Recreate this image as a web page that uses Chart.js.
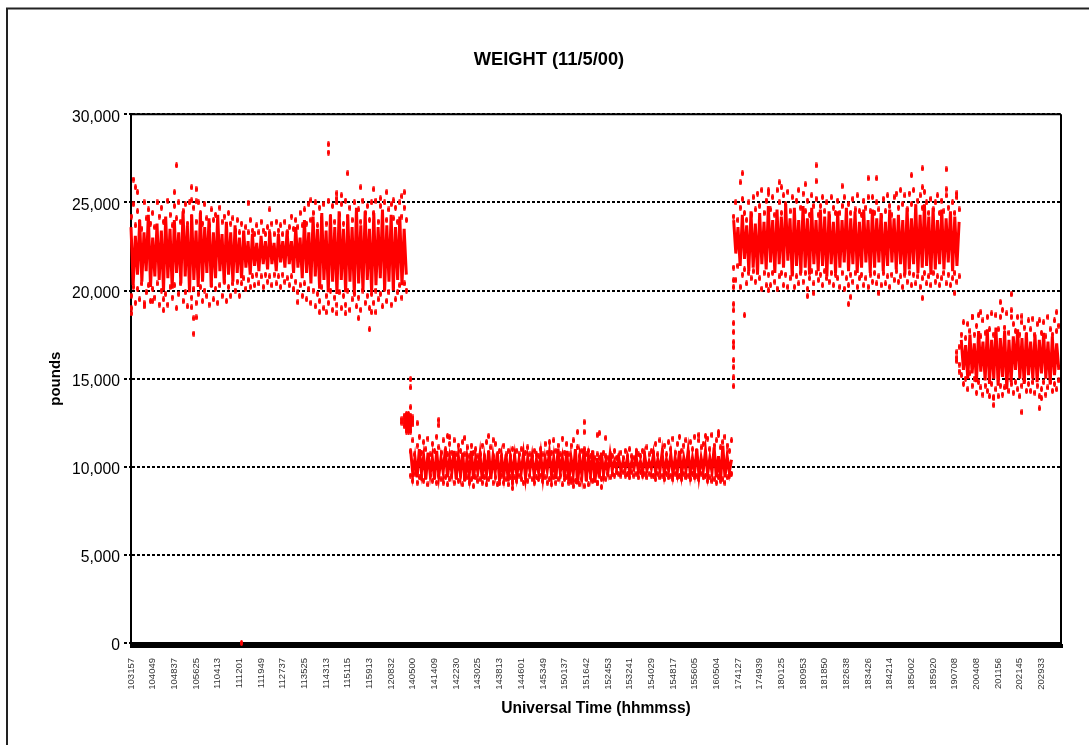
<!DOCTYPE html>
<html>
<head>
<meta charset="utf-8">
<title>WEIGHT (11/5/00)</title>
<script src="https://cdn.jsdelivr.net/npm/chart.js@4"></script>
<style>
  html, body { margin: 0; background: #fff; overflow: hidden; }
  #wrap { position: relative; width: 1089px; height: 745px; }
</style>
</head>
<body>
<div id="wrap"><canvas id="weightChart" width="1089" height="745"></canvas></div>
<script>
// x axis labels, one every 10 columns
const tickLabels = ['103157','104049','104837','105625','110413','111201','111949','112737','113525','114313','115115','115913','120832','140500','141409','142230','143025','143813','144601','145349','150137','151642','152453','153241','154029','154817','155605','160504','174127','174939','180125','180953','181850','182638','183426','184214','185002','185920','190708','200408','201156','202145','202933'];
const yTicks = [0, 5000, 10000, 15000, 20000, 25000, 30000];

// leg 1: columns 0-127
const coreA = [23600,20300,23100,20900,24000,20500,23300,21100,24300,20200,23000,20800,23800,20600,23400,20000,
24200,20700,23500,20100,24000,21000,23300,20400,24500,20800,23700,19900,24300,20600,23400,20200,
24400,20500,23600,21000,24100,20200,23300,20700,24300,21100,23200,20400,23900,20900,23300,20500,
23700,21000,23000,20700,23400,21300,22800,20900,23200,21400,22700,21100,23100,21500,22800,21200,
23300,21500,22700,21100,23200,21600,22800,21300,23400,21500,22800,21000,23600,21300,23000,20700,
24000,21000,23300,20400,24200,20800,23500,20100,24400,20600,23400,19900,24300,20500,23600,19800,
24500,20600,23500,19900,24300,20500,23600,19800,24700,20400,23700,20000,24500,20600,23500,19900,
24400,20300,23600,20700,24600,20000,23700,20500,24300,20000,23600,20600,24200,20300,23500,20900];
const highA = [24200,24900,23700,24500,23900,23500,25000,24100,24600,23800,24400,23600,25000,24200,24700,23900,
24000,25100,24300,23700,24800,24100,25000,23900,24500,24900,23800,25000,24200,24700,23900,25000,
24400,23800,24900,24100,23700,24600,24000,24300,23600,24700,23900,24200,23500,24400,23800,24100,
23400,24000,23300,23800,23200,23600,23300,24000,23400,23200,23700,23300,23900,23400,23200,23600,
23300,23800,23200,23900,23400,23700,23200,23900,23300,23600,24200,23500,24000,23600,24400,23700,
24600,23800,24900,24000,24400,25000,23700,24700,24100,24900,23800,25100,24200,24800,23900,25000,
24300,24900,23800,25100,24200,24700,24000,25000,24300,24600,23900,25100,24400,24800,24000,25000,
24400,25100,23900,24800,24200,25000,24000,24600,24900,24100,24700,23900,25000,24200,24700,24000];
const lowA = [19700,20200,19300,20100,19500,20400,19100,19900,20300,19400,20100,19600,20400,19200,20000,19500,
19800,19200,20200,19600,20300,19000,19800,20400,19400,19900,19100,20300,19600,20100,19300,19800,
20200,19400,20000,19700,19200,20300,19500,20100,19300,20300,19700,20500,19400,20200,19700,20400,
20000,20500,19700,20400,20700,20100,20600,20200,20800,20300,20900,20400,20800,20200,20900,20500,
20800,20300,20900,20400,20800,20200,20900,20500,20700,20300,20800,20100,20500,19900,20300,19700,
20400,19500,20100,19300,20000,19100,19800,19400,20200,19000,19700,19300,20000,18900,19600,19200,
19900,19000,19700,19200,20000,18900,19500,19800,19100,19600,18900,20000,19300,19700,19000,19800,
19300,20000,19500,19800,19100,20100,19400,19900,19200,20200,19500,19900,20300,19600,20400,20000];

// leg 2: columns 129-277
const coreB = [10900,9600,10500,9400,11000,9700,10600,9300,10800,9600,10500,9300,10900,9500,10500,9700,
11000,9400,10500,9700,10900,9300,10600,9600,10800,9200,10500,9500,10900,9300,10500,9700,
10700,9300,10500,9600,10900,9300,10600,9700,10800,9200,10500,9500,10700,9200,10500,9600,
10600,9500,10400,9700,10700,9400,10500,9800,10600,9500,10400,9700,10700,9400,10500,9800,
10800,9500,10500,9300,11000,9700,10500,9400,10900,9200,10500,9600,11000,9000,10500,9500,
11000,9200,10500,9600,10900,9100,10500,9400,10800,9600,10300,9700,10700,9800,10300,9900,
10500,9800,10300,9900,10500,9700,10300,9900,10600,9800,10300,9700,10600,9800,10300,9900,
10700,9700,10400,9800,10800,9600,10400,9800,10700,9600,10500,9700,10900,9600,10500,9800,
10900,9600,10500,9700,11000,9500,10500,9800,10900,9600,10500,9700,11100,9400,10600,9300,
11200,9400,10600,9700,10400];
const highB = [10900,11500,10700,11200,11700,10800,11400,11000,11600,10700,11300,10900,11700,11100,10800,11500,
11000,10700,11300,10800,11500,10700,11200,10900,11400,10700,11100,10600,11200,10800,11000,10600,
10700,11200,10600,11400,10800,11100,10600,11300,10700,10900,10600,11200,10700,10900,10600,11000,
10600,10900,10700,11000,10600,10800,11100,10700,10600,10900,10700,10600,11000,10700,11300,10800,
11400,10800,11500,10900,11200,10700,11600,10800,11300,10700,11200,11500,10800,11100,10600,10900,
11000,10700,10900,10600,10800,10500,10700,10500,10600,10800,10600,10500,10700,10600,10900,10500,
10600,10800,10500,10900,10600,11000,10600,10500,10900,10700,10600,10900,10700,11100,10700,10900,
10800,11300,10700,11500,10900,11200,10700,11400,11000,11600,10800,11300,11700,10900,11200,11500,
10800,11400,11000,11700,10900,11500,11100,11300,10800,11600,11000,11800,11200,11500,11800,11100,
11400,11700,11200,10900,11500];
const lowB = [9500,9200,9600,9100,9400,9500,9200,9400,9000,9500,9200,9400,9100,9500,9300,9100,
9400,9000,9300,9500,9100,9400,9200,9500,9000,9300,9400,9100,9300,8900,9400,9200,
9300,9100,9400,9000,9300,9500,9100,9400,9000,9300,9500,9100,9300,9000,9400,9200,
9400,9200,9500,9300,9100,9400,9200,9500,9300,9100,9400,9300,9500,9200,9400,9100,
9300,9000,9400,9100,9300,9500,9000,9300,9400,9100,9300,8900,9200,9400,9000,9300,
8900,9300,9000,9400,9200,9400,9100,9500,9300,9500,9300,9600,9400,9600,9500,9700,
9600,9500,9700,9500,9600,9400,9700,9500,9600,9400,9700,9500,9600,9400,9600,9500,
9500,9300,9600,9400,9500,9300,9600,9400,9500,9300,9600,9400,9500,9300,9600,9400,
9500,9300,9600,9400,9500,9300,9600,9400,9500,9200,9400,9200,9300,9100,9400,9200,
9300,9100,9400,9500,9600];

// leg 3: columns 278-382
const coreC = [24000,22100,23600,21400,24300,21800,23700,21100,24500,21300,23800,20900,24400,21500,23900,21200,
24800,21600,24000,21000,24600,21500,24200,21300,24900,21700,24100,20800,24700,21400,24000,21000,
24800,21300,24100,20900,24700,21500,24000,21100,24600,21400,24200,20800,24500,21500,23900,21000,
24500,21300,24000,21600,24700,21100,24100,21500,24500,21000,23900,21300,24600,21600,24000,21000,
24600,21300,24100,21600,24400,21100,23900,21400,24600,21600,24100,21200,24300,21500,24000,20900,
24700,21200,24100,21500,24900,21000,24300,21300,24900,21400,24200,20900,24700,21200,24000,21500,
24600,21200,24100,21600,24500,21100,24200,21400,23900];
const highC = [24200,25000,24000,24700,25200,24400,24000,25000,24300,25300,24600,25500,24800,25700,24400,25100,
25500,24600,25300,24300,25700,25000,24400,25400,24900,25600,24500,25300,24300,25100,25700,24700,
25500,24500,25100,24300,25400,24800,25200,24300,24800,25300,24500,25000,24200,25300,24700,24400,
25100,24400,24800,25300,24300,24900,24400,25200,24600,25400,24500,24300,25100,24700,25300,24500,
25300,24400,25000,24600,24200,25200,24500,25400,24800,24300,25300,25500,24700,25700,24900,25400,
24600,25500,24900,25700,24500,25100,25400,24700,25600,25000,24400,25200,24600,25000,25400,24400,
25100,24500,25400,24700,24200,25000,24400,25300,24600];
const lowC = [21300,20600,21400,20200,20900,21200,20400,21000,20700,21100,20500,21200,20700,20100,21000,20300,
20900,20300,21000,20500,20100,20800,21000,20300,20900,20200,20700,21000,20200,20800,20400,21000,
20500,21000,20100,20700,21100,20400,21000,20600,20900,20300,21100,20700,20500,21000,20300,20900,
20700,20200,21000,20100,20700,20300,20900,20500,21000,20200,20700,20900,20300,20700,20200,20900,
20500,21000,20400,20800,20300,21000,20400,20800,20200,20900,20600,21100,20500,20800,20200,20900,
20500,21000,20300,20900,20400,20800,20200,20700,21000,20400,20800,20300,21000,20500,20800,20300,
20700,21000,20400,20900,20300,20700,21000,20500,20800];

// leg 4: columns 383-428
const coreD = [17200,15500,16900,15000,17500,15300,17000,14800,17700,15400,17100,14900,17800,14700,17200,15000,
17900,14600,17300,15100,17700,14400,17200,14800,17400,15500,17800,15000,17300,14700,17600,15200,
17100,15000,17500,14800,17200,15300,17600,15000,17100,14700,17400,15200,17000,15500];
const highD = [17500,18200,17300,18100,17700,18500,17500,18000,18600,17400,18300,17600,18500,17800,18700,17500,
18600,17800,18500,18900,17900,18700,17600,18500,18100,17700,18500,17500,18200,17900,17500,18300,
17800,18400,17500,18100,18300,17600,18200,17400,18500,17800,17500,18300,17700,18000];
const lowD = [15200,14700,15000,14400,15300,14600,15000,14200,14800,14500,14100,14600,14300,14000,14700,13900,
14400,14000,14600,14100,14500,14900,14300,14700,14200,14800,14400,14000,14600,14900,14300,14700,
14300,14800,14200,14600,14000,14400,14800,14100,14500,14800,14300,14700,14400,14900];

// stray readings, column and weight
const strayColumn = [91,91,21,100,1,2,3,20,28,30,106,112,118,126,125,95,97,95,28,30,54,83,115,121,64,
0,0,15,30,28,6,10,87,90,95,99,105,111,113,77,110,29,29,51,
125,125,126,126,126,126,127,127,127,127,127,127,128,128,128,128,128,128,129,129,129,129,129,130,130,130,127,129,128,128,129,129,129,
142,142,132,209,209,206,216,215,219,165,167,271,262,265,154,146,147,176,176,217,215,134,170,203,
316,282,281,365,376,360,340,344,316,299,311,300,328,365,294,381,376,331,332,312,365,315,345,380,294,283,
278,278,278,278,278,278,278,278,278,278,278,278,
406,401,406,427,388,392,411,411,419,398,420,398,381,381,381,382,382,382];
const strayWeight = [28300,27830,27100,26650,26300,25860,25580,25580,25860,25750,25860,25750,25580,25580,25350,25520,25400,25230,25120,25060,24950,25120,25230,25120,24600,
18700,19000,18880,18480,19050,19280,19400,18770,18770,18700,18700,18430,18770,18770,19340,17800,17550,18430,0,
12500,12700,12300,12500,12700,12900,12100,12300,12500,12700,12900,13000,12000,12200,12400,12600,12800,13000,12100,12300,12500,12700,12900,12400,12600,12800,12000,12000,12200,12400,13380,14500,14970,
12650,12360,12470,12530,11970,11970,11910,11800,11630,11740,11510,11970,11800,11750,11630,11740,11680,8790,9070,8850,9070,9360,9070,9130,
27100,26650,26140,26930,26880,26540,26370,26370,26200,26140,26030,25860,25920,25860,25690,25520,25750,19230,19630,19680,19570,19850,19850,19850,20020,18600,
19230,18880,18150,17640,17070,16790,16050,15650,15080,14570,20590,20190,
19790,19340,18880,18770,18490,18770,18540,13100,13320,13500,13890,13950,16000,16500,16200,15800,16800,15400];

const legs = [
  { start: 0, core: coreA, high: highA, low: lowA },
  { start: 129, core: coreB, high: highB, low: lowB },
  { start: 278, core: coreC, high: highC, low: lowC },
  { start: 383, core: coreD, high: highD, low: lowD }
];

// small upright dash, the marker the plot uses
const dash = document.createElement('canvas');
dash.width = 3; dash.height = 6;
const dc = dash.getContext('2d');
dc.fillStyle = '#ff0000';
dc.beginPath();
dc.ellipse(1.5, 3, 1.5, 3, 0, 0, Math.PI * 2);
dc.fill();

const toPoints = (values, start) => values.map((y, i) => ({ x: start + i, y }));
const dots = data => ({ data, showLine: false, pointStyle: dash, pointRadius: 3, clip: false });

const datasets = [];
legs.forEach(leg => {
  datasets.push({ data: toPoints(leg.core, leg.start), showLine: true, borderColor: '#ff0000', borderWidth: 3, pointRadius: 0, clip: false });
  datasets.push(dots(toPoints(leg.high, leg.start)));
  datasets.push(dots(toPoints(leg.low, leg.start)));
});
datasets.push(dots(strayColumn.map((x, i) => ({ x, y: strayWeight[i] }))));

// plot border on the right and the open frame round the page
const frames = {
  id: 'frames',
  afterDraw(chart) {
    const { ctx, chartArea: a } = chart;
    ctx.save();
    ctx.strokeStyle = '#000';
    ctx.lineWidth = 2;
    ctx.beginPath();
    ctx.moveTo(a.right, a.top);
    ctx.lineTo(a.right, a.bottom);
    ctx.moveTo(a.left, a.top);
    ctx.lineTo(a.right, a.top);
    ctx.stroke();
    ctx.strokeStyle = '#222';
    ctx.beginPath();
    ctx.moveTo(7, 745);
    ctx.lineTo(7, 8.5);
    ctx.lineTo(1089, 8.5);
    ctx.stroke();
    ctx.restore();
  }
};

new Chart(document.getElementById('weightChart'), {
  type: 'scatter',
  data: { datasets },
  plugins: [frames],
  options: {
    responsive: false,
    animation: false,
    layout: { padding: { left: 37, right: 28, top: 0, bottom: 0 } },
    plugins: {
      legend: { display: false },
      tooltip: { enabled: false },
      title: {
        display: true,
        text: 'WEIGHT (11/5/00)',
        color: '#000',
        font: { family: 'Liberation Sans', size: 18.3, weight: 'bold', lineHeight: 1 },
        padding: { top: 51, bottom: 45 }
      }
    },
    scales: {
      x: {
        type: 'linear',
        min: 0,
        max: 429,
        afterFit(scale) { scale.height = 102; },
        grid: { drawOnChartArea: false, tickLength: 5, tickWidth: 3, tickColor: '#000' },
        border: { color: '#000', width: 2 },
        ticks: {
          stepSize: 1,
          autoSkip: false,
          minRotation: 90,
          maxRotation: 90,
          padding: 10,
          color: '#333',
          font: { family: 'Liberation Sans', size: 9.5 },
          callback: v => (v % 10 === 0 ? tickLabels[v / 10] || '' : '')
        },
        title: {
          display: true,
          text: 'Universal Time (hhmmss)',
          color: '#000',
          font: { family: 'Liberation Sans', size: 15.6, weight: 'bold' },
          padding: { top: 0, bottom: 27 }
        }
      },
      y: {
        min: 0,
        max: 30000,
        afterFit(scale) { scale.width = 94; },
        afterBuildTicks(scale) { scale.ticks = yTicks.map(value => ({ value })); },
        grid: { color: '#000', lineWidth: 2, tickLength: 7, tickBorderDash: [3, 2] },
        border: { color: '#000', width: 2, dash: [3, 2] },
        ticks: {
          padding: 4,
          labelOffset: 3,
          color: '#000',
          font: { family: 'Liberation Sans', size: 15.7 }
        },
        title: {
          display: true,
          text: 'pounds',
          color: '#000',
          font: { family: 'Liberation Sans', size: 15, weight: 'bold' },
          padding: { top: 10, bottom: 0 }
        }
      }
    }
  }
});
</script>
</body>
</html>
